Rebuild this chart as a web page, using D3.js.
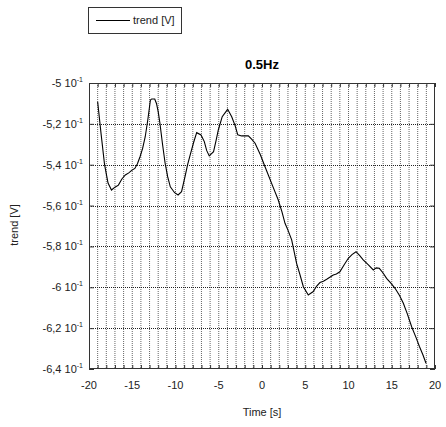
<!DOCTYPE html>
<html>
<head>
<meta charset="utf-8">
<script src="https://cdn.jsdelivr.net/npm/d3@7"></script>
<style>
body { margin: 0; background: #fff; }
text { font-family: "Liberation Sans", Arial, sans-serif; }
</style>
</head>
<body>
<div class="site-wrapper-inner"></div>
<script>
// time [s] and trend [V]
var times = [-19.0, -18.6, -18.2, -17.8, -17.4, -17.0, -16.6, -16.2, -15.8, -15.4, -15.1, -14.7, -14.4, -14.1, -13.8, -13.5, -13.2, -12.9, -12.75, -12.4, -12.2, -12.0, -11.8, -11.5, -11.2, -10.9, -10.6, -10.1, -9.7, -9.3, -8.9, -8.6, -8.3, -7.9, -7.55, -7.05, -6.67, -6.4, -6.1, -5.6, -5.3, -5.05, -4.6, -3.97, -3.5, -3.1, -2.8, -2.35, -1.58, -1.2, -0.8, -0.2, 0.35, 1.1, 1.88, 2.3, 2.66, 3.0, 3.43, 4.0, 4.4, 4.78, 5.35, 5.93, 6.3, 6.7, 7.1, 7.48, 8.24, 8.6, 9.0, 9.5, 9.98, 10.4, 10.87, 11.3, 11.7, 12.3, 12.87, 13.2, 13.56, 14.0, 14.4, 14.9, 15.38, 15.9, 16.34, 16.8, 17.3, 17.8, 18.2, 18.6, 18.96];
var trend = [-0.5092, -0.5250, -0.5400, -0.5490, -0.5524, -0.5510, -0.5500, -0.5470, -0.5450, -0.5440, -0.5429, -0.5418, -0.5395, -0.5361, -0.5320, -0.5263, -0.5180, -0.5083, -0.5078, -0.5078, -0.5100, -0.5140, -0.5197, -0.5300, -0.5393, -0.5460, -0.5508, -0.5537, -0.5548, -0.5532, -0.5458, -0.5400, -0.5352, -0.5290, -0.5243, -0.5254, -0.5287, -0.5330, -0.5357, -0.5336, -0.5280, -0.5230, -0.5165, -0.5129, -0.5165, -0.5210, -0.5254, -0.5259, -0.5259, -0.5275, -0.5295, -0.5350, -0.5410, -0.5490, -0.5573, -0.5630, -0.5687, -0.5720, -0.5768, -0.5883, -0.5940, -0.5997, -0.6038, -0.6021, -0.5995, -0.5977, -0.5970, -0.5961, -0.5940, -0.5935, -0.5924, -0.5890, -0.5858, -0.5840, -0.5826, -0.5845, -0.5866, -0.5890, -0.5915, -0.5905, -0.5907, -0.5930, -0.5956, -0.5980, -0.6005, -0.6040, -0.6078, -0.6130, -0.6193, -0.6245, -0.6290, -0.6330, -0.6372];
var xTicks = [-20, -15, -10, -5, 0, 5, 10, 15, 20];
var yTicks = [-0.5, -0.52, -0.54, -0.56, -0.58, -0.6, -0.62, -0.64];
var yTickLabels = ["-5", "-5,2", "-5,4", "-5,6", "-5,8", "-6", "-6,2", "-6,4"];
var minorX = d3.range(-20, 21, 1);

let w = 446;
let h = 427;
var plotL = 89, plotR = 435, plotT = 83, plotB = 369;

var canvas = d3.select(".site-wrapper-inner")
			.append("svg")
			.attr("width", w)
			.attr("height", h);

var x = d3.scaleLinear().domain([-20, 20]).range([plotL, plotR]);
var y = d3.scaleLinear().domain([-0.64, -0.5]).range([plotB, plotT]);

// grid
canvas.selectAll(".vgrid")
	.data(minorX.slice(1, -1))
	.enter()
		.append("line")
		.attr("x1", function(d) {return x(d)})
		.attr("x2", function(d) {return x(d)})
		.attr("y1", plotT)
		.attr("y2", plotB)
		.attr("stroke", "#666")
		.attr("stroke-dasharray", "1,1");
canvas.selectAll(".hgrid")
	.data(yTicks.slice(1, -1))
	.enter()
		.append("line")
		.attr("x1", plotL)
		.attr("x2", plotR)
		.attr("y1", function(d) {return Math.round(y(d)) + 0.5})
		.attr("y2", function(d) {return Math.round(y(d)) + 0.5})
		.attr("stroke", "#222")
		.attr("stroke-dasharray", "1,1");

// ticks pointing inward on all four sides
canvas.append("g").attr("transform", "translate(0," + plotB + ")").call(d3.axisBottom(x).tickValues(minorX).tickSize(-4).tickFormat(""));
canvas.append("g").attr("transform", "translate(0," + plotT + ")").call(d3.axisTop(x).tickValues(minorX).tickSize(-4).tickFormat(""));
canvas.append("g").attr("transform", "translate(" + plotL + ",0)").call(d3.axisLeft(y).tickValues(yTicks).tickSize(-5).tickFormat(""));
canvas.append("g").attr("transform", "translate(" + plotR + ",0)").call(d3.axisRight(y).tickValues(yTicks).tickSize(-5).tickFormat(""));
canvas.selectAll(".domain").remove();
canvas.selectAll(".tick line").attr("stroke", "#333");

canvas.append("rect")
	.attr("x", plotL + 0.5)
	.attr("y", plotT + 0.5)
	.attr("width", plotR - plotL - 1)
	.attr("height", plotB - plotT - 1)
	.attr("fill", "none")
	.attr("stroke", "#333");

// tick labels
canvas.selectAll(".xl")
	.data(xTicks)
	.enter()
		.append("text")
		.attr("x", function(d) {return x(d)})
		.attr("y", 389)
		.attr("text-anchor", "middle")
		.attr("font-size", 11)
		.attr("fill", "#222")
		.text(function(d) {return d});

var yl = canvas.selectAll(".yl")
	.data(yTicks)
	.enter()
		.append("text")
		.attr("x", 83)
		.attr("y", function(d) {return y(d) + 4})
		.attr("text-anchor", "end")
		.attr("font-size", 11)
		.attr("fill", "#222");
yl.append("tspan").text(function(d, i) {return yTickLabels[i] + " 10"});
yl.append("tspan").attr("dy", -5).attr("font-size", 7).text("-1");

// titles
canvas.append("text").attr("x", 262).attr("y", 69).attr("text-anchor", "middle")
	.attr("font-size", 13).attr("font-weight", "bold").text("0.5Hz");
canvas.append("text").attr("x", 262).attr("y", 416).attr("text-anchor", "middle")
	.attr("font-size", 11).attr("fill", "#222").text("Time [s]");
canvas.append("text").attr("transform", "translate(18,225) rotate(-90)").attr("text-anchor", "middle")
	.attr("font-size", 11).attr("fill", "#222").text("trend [V]");

// legend
canvas.append("rect").attr("x", 88.5).attr("y", 7.5).attr("width", 93).attr("height", 26)
	.attr("fill", "#fff").attr("stroke", "#333");
canvas.append("line").attr("x1", 96).attr("x2", 130).attr("y1", 20.5).attr("y2", 20.5).attr("stroke", "#000");
canvas.append("text").attr("x", 133).attr("y", 24).attr("font-size", 11).attr("fill", "#222").text("trend [V]");

// curve
var line = d3.line()
	.x(function(d, i) {return x(times[i])})
	.y(function(d) {return y(d)});
canvas.append("path")
	.datum(trend)
	.attr("d", line)
	.attr("fill", "none")
	.attr("stroke", "#000")
	.attr("stroke-width", 1.1);
</script>
</body>
</html>
